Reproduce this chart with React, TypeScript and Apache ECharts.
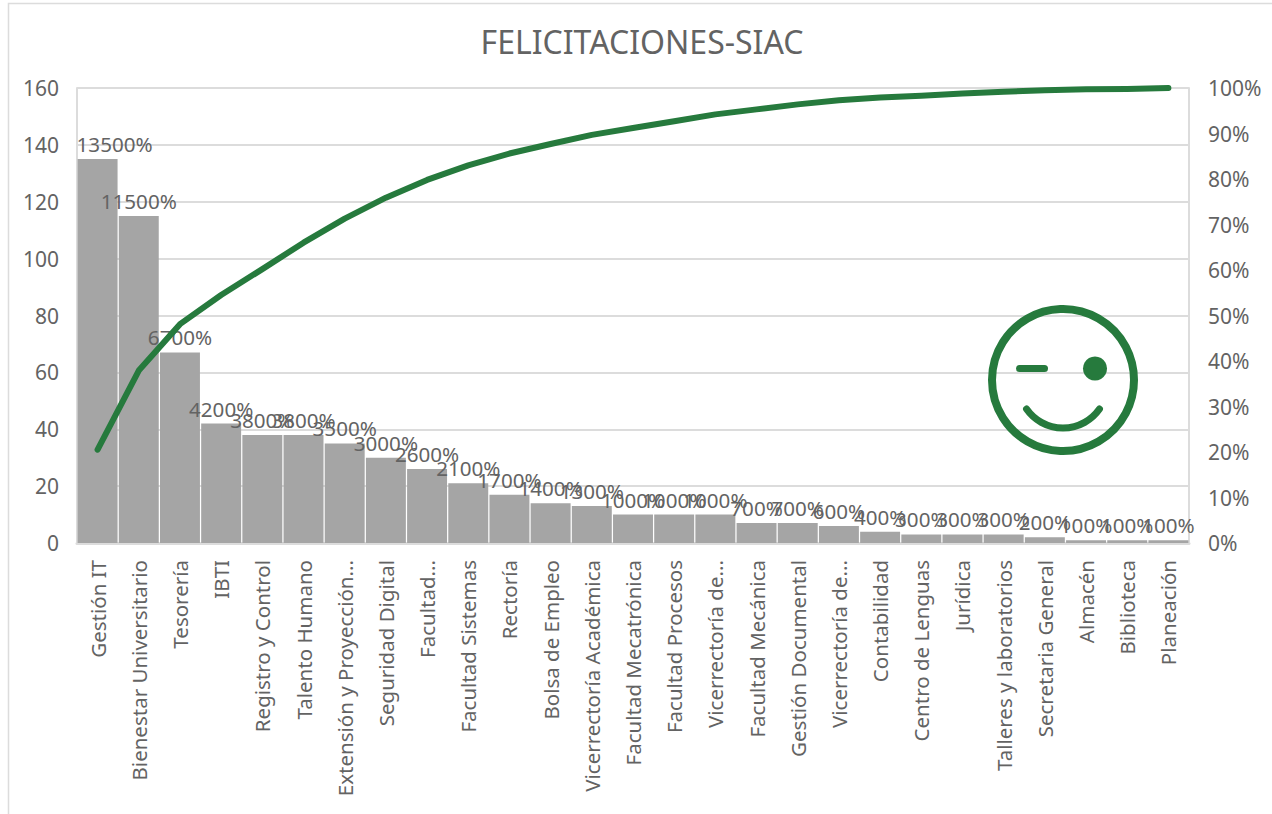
import React, { useEffect, useRef } from "react";
import * as echarts from "echarts";

const titleText = "FELICITACIONES-SIAC";
const categories = [
  "Gestión IT", "Bienestar Universitario", "Tesorería", "IBTI", "Registro y Control",
  "Talento Humano", "Extensión y Proyección...", "Seguridad Digital", "Facultad...",
  "Facultad Sistemas", "Rectoría", "Bolsa de Empleo", "Vicerrectoría Académica",
  "Facultad Mecatrónica", "Facultad Procesos", "Vicerrectoría de...", "Facultad Mecánica",
  "Gestión Documental", "Vicerrectoría de...", "Contabilidad", "Centro de Lenguas",
  "Jurídica", "Talleres y laboratorios", "Secretaria General", "Almacén", "Biblioteca", "Planeación",
];
const counts = [135, 115, 67, 42, 38, 38, 35, 30, 26, 21, 17, 14, 13, 10, 10, 10, 7, 7, 6, 4, 3, 3, 3, 2, 1, 1, 1];
const cumulative = [
  20.5, 37.9, 48.1, 54.5, 60.2, 66.0, 71.3, 75.9, 79.8, 83.0, 85.6, 87.7, 89.7, 91.2,
  92.7, 94.2, 95.3, 96.4, 97.3, 97.9, 98.3, 98.8, 99.2, 99.5, 99.7, 99.8, 100,
];
const FONT = "'Noto Sans'";
const TEXT = "#636363";
const GRID = "#dcdcdc";
const GREEN = "#267a3d";
const Z = 100;

export default function App() {
  const ref = useRef<HTMLDivElement>(null);
  useEffect(() => {
    const chart = echarts.init(ref.current!, undefined, { renderer: "svg" });
    chart.setOption({
      animation: false,
      backgroundColor: "#ffffff",
      textStyle: { fontFamily: FONT },
      title: {
        text: titleText,
        left: 637,
        top: 20,
        textAlign: "center",
        textStyle: { fontFamily: FONT, fontSize: 32, fontWeight: "normal", color: TEXT },
      },
      grid: { left: 77, right: 83, top: 88, bottom: 271, containLabel: false },
      xAxis: {
        type: "category",
        data: categories,
        axisTick: { show: false },
        axisLine: { lineStyle: { color: GRID, width: 3 } },
        axisLabel: {
          interval: 0,
          rotate: 90,
          margin: 17,
          fontFamily: FONT,
          fontSize: 20.5,
          color: TEXT,
        },
      },
      yAxis: [
        {
          type: "value",
          min: 0,
          max: 160,
          interval: 20,
          axisLine: { show: true, lineStyle: { color: GRID, width: 2 } },
          axisTick: { show: false },
          splitLine: { lineStyle: { color: GRID, width: 2 } },
          axisLabel: { margin: 18, fontFamily: FONT, fontSize: 21, color: TEXT },
        },
        {
          type: "value",
          min: 0,
          max: 100,
          interval: 10,
          position: "right",
          axisLine: { show: true, lineStyle: { color: GRID, width: 2 } },
          axisTick: { show: false },
          splitLine: { show: false },
          axisLabel: { margin: 19, formatter: "{value}%", fontFamily: FONT, fontSize: 21, color: TEXT },
        },
      ],
      series: [
        {
          type: "bar",
          data: counts.map((v, i) =>
            i === 0 ? { value: v, label: { offset: [17, 0] } } : v
          ),
          barCategoryGap: "3%",
          itemStyle: { color: "#a5a5a5" },
          label: {
            show: true,
            position: "top",
            distance: 4.5,
            formatter: (p: any) => `${p.value * 100}%`,
            fontFamily: FONT,
            fontSize: 20.6,
            color: TEXT,
          },
          z: 2,
        },
        {
          type: "line",
          yAxisIndex: 1,
          data: cumulative,
          showSymbol: false,
          symbol: "none",
          lineStyle: { color: GREEN, width: 6, cap: "round", join: "round" },
          z: 3,
        },
      ],
      graphic: {
        elements: [
          {
            type: "rect",
            silent: true,
            shape: { x: 8.5, y: 3.5, width: 1300, height: 850 },
            style: { fill: "none", stroke: GRID, lineWidth: 1.5 },
          },
          {
            type: "circle",
            silent: true,
            z: Z,
            shape: { cx: 1063, cy: 380, r: 71 },
            style: { fill: "none", stroke: GREEN, lineWidth: 8 },
          },
          {
            type: "line",
            silent: true,
            z: Z,
            shape: { x1: 1019.5, y1: 368.5, x2: 1044.5, y2: 368.5 },
            style: { stroke: GREEN, lineWidth: 7, lineCap: "round" },
          },
          {
            type: "circle",
            silent: true,
            z: Z,
            shape: { cx: 1095, cy: 368.5, r: 12 },
            style: { fill: GREEN },
          },
          {
            type: "arc",
            silent: true,
            z: Z,
            shape: {
              cx: 1063,
              cy: 383.5,
              r: 44.5,
              startAngle: (35 * Math.PI) / 180,
              endAngle: (145 * Math.PI) / 180,
              clockwise: true,
            },
            style: { fill: "none", stroke: GREEN, lineWidth: 7, lineCap: "round" },
          },
        ],
      },
    });
    return () => chart.dispose();
  }, []);
  return (
    <div
      ref={ref}
      style={{ position: "absolute", left: 0, top: 0, width: 1272, height: 814 }}
    />
  );
}
